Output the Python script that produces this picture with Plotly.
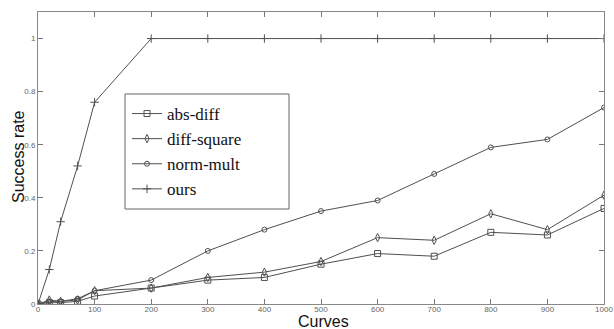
import plotly.graph_objects as go

curves = [0, 20, 40, 70, 100, 200, 300, 400, 500, 600, 700, 800, 900, 1000]
abs_diff = [0, 0.005, 0.005, 0.01, 0.03, 0.06, 0.09, 0.10, 0.15, 0.19, 0.18, 0.27, 0.26, 0.36]
diff_square = [0, 0.015, 0.01, 0.015, 0.05, 0.06, 0.10, 0.12, 0.16, 0.25, 0.24, 0.34, 0.28, 0.41]
norm_mult = [0, 0.01, 0.01, 0.02, 0.05, 0.09, 0.20, 0.28, 0.35, 0.39, 0.49, 0.59, 0.62, 0.74]
ours = [0, 0.13, 0.31, 0.52, 0.76, 1.0, 1.0, 1.0, 1.0, 1.0, 1.0, 1.0, 1.0, 1.0]

x_ticks = [0, 100, 200, 300, 400, 500, 600, 700, 800, 900, 1000]
y_ticks = [0, 0.2, 0.4, 0.6, 0.8, 1]
y_labels = ["0", "0.2", "0.4", "0.6", "0.8", "1"]

W, H = 614, 329
L, R, T, B = 38, 10, 12, 25
pw, ph = W - L - R, H - T - B

line_col = "#505050"
series = [
    ("abs-diff", abs_diff, "square-open", 6),
    ("diff-square", diff_square, "diamond-tall-open", 6),
    ("norm-mult", norm_mult, "circle-open", 5),
    ("ours", ours, "cross-thin-open", 6),
]

fig = go.Figure()
for name, vals, sym, sz in series:
    fig.add_trace(go.Scatter(
        x=curves, y=vals, name=name, mode="lines+markers", legendgroup=name,
        line=dict(color=line_col, width=1),
        marker=dict(symbol=sym, size=sz, color=line_col, line=dict(color=line_col, width=1)),
    ))

def px2x(p):
    return (p - L) / pw

def px2y(p):
    return (H - B - p) / ph

# legend frame
fig.add_shape(type="rect", xref="paper", yref="paper",
              x0=px2x(125), x1=px2x(289), y0=px2y(209), y1=px2y(94),
              line=dict(color="#666", width=1), fillcolor="white", layer="above")

fig.update_layout(
    width=W, height=H,
    margin=dict(l=L, r=R, t=T, b=B),
    paper_bgcolor="white", plot_bgcolor="white",
    showlegend=True,
    legend=dict(
        x=px2x(127), y=px2y(96), xanchor="left", yanchor="top",
        bgcolor="rgba(0,0,0,0)", borderwidth=0,
        font=dict(family="Liberation Serif, DejaVu Serif, serif", size=17, color="#111"),
        itemwidth=30, tracegroupgap=0,
    ),
    annotations=[
        dict(text="Curves", xref="paper", yref="paper", x=px2x(323), y=px2y(332),
             xanchor="center", yanchor="bottom", showarrow=False,
             font=dict(family="Liberation Sans", size=16, color="#111")),
        dict(text="Success rate", xref="paper", yref="paper", x=px2x(18), y=px2y(157),
             xanchor="center", yanchor="middle", textangle=-90, showarrow=False,
             font=dict(family="Liberation Sans", size=16, color="#111")),
    ],
)
fig.update_xaxes(
    range=[0, 1000], tickvals=x_ticks, ticktext=[str(v) for v in x_ticks],
    ticks="inside", ticklen=5, tickcolor="#777", mirror="ticks", automargin=False,
    showline=True, linecolor="#888", linewidth=1, showgrid=False, zeroline=False,
    tickfont=dict(family="Liberation Sans", size=8, color="#666"),
    ticklabelstandoff=-3,
)
fig.update_yaxes(
    range=[0, 1.1], tickvals=y_ticks, ticktext=y_labels,
    ticks="inside", ticklen=5, tickcolor="#777", mirror="ticks", automargin=False,
    showline=True, linecolor="#888", linewidth=1, showgrid=False, zeroline=False,
    tickfont=dict(family="Liberation Sans", size=8, color="#666"),
)

fig.write_html("out.html", config={"displayModeBar": False},
               post_script="document.body.style.margin='0';document.body.style.overflow='hidden';")
